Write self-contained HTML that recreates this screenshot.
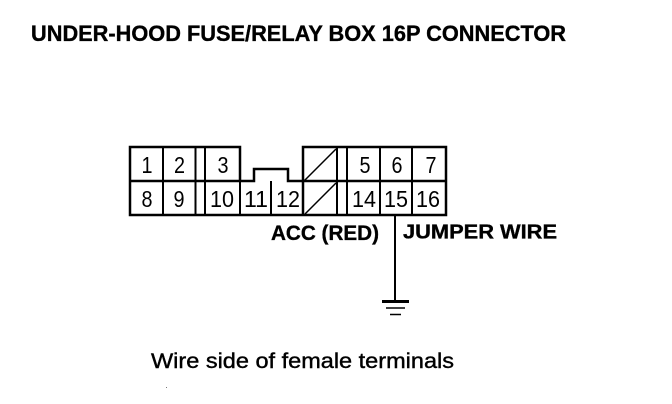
<!DOCTYPE html>
<html><head><meta charset="utf-8"><style>
html,body{margin:0;padding:0;background:#fff;width:672px;height:404px;overflow:hidden}
svg{display:block}
text{font-family:"Liberation Sans",sans-serif;fill:#000}
.b{font-weight:bold;stroke:#000;stroke-width:.35}
.n{font-size:23px;text-anchor:middle;fill:#111}
</style></head><body>
<svg width="672" height="404" viewBox="0 0 672 404" xmlns="http://www.w3.org/2000/svg">
<text class="b" x="31" y="41" font-size="22" textLength="535" lengthAdjust="spacingAndGlyphs">UNDER-HOOD FUSE/RELAY BOX 16P CONNECTOR</text>
<g stroke="#000" fill="none" stroke-width="2">
<path stroke-width="2.500" d="M240 181V147H130V215H446V147H303V215"/>
<path stroke-width="2.500" d="M130 181H240M240 181H254V169H288V181H303M303 181H446"/>
<path d="M163 147V215M195.500 147V215M205 147V215M240 181V215M271 181V215M337 147V215M347 147V215M380 147V215M412 147V215"/>
<path stroke-width="1.500" d="M304 181L336 149M305 214L336 183"/>
<path d="M395 215V301"/>
<path stroke-width="3" d="M382 301.500H409"/>
<path stroke-width="1.500" d="M386 308H405M390 314.500H401"/>
</g>
<g class="n">
<text x="147" y="173" textLength="11" lengthAdjust="spacingAndGlyphs">1</text>
<text x="179.500" y="173" textLength="11" lengthAdjust="spacingAndGlyphs">2</text>
<text x="223" y="173" textLength="11" lengthAdjust="spacingAndGlyphs">3</text>
<text x="365" y="173" textLength="11" lengthAdjust="spacingAndGlyphs">5</text>
<text x="397" y="173" textLength="11" lengthAdjust="spacingAndGlyphs">6</text>
<text x="431" y="173" textLength="11" lengthAdjust="spacingAndGlyphs">7</text>
<text x="147" y="207" textLength="11" lengthAdjust="spacingAndGlyphs">8</text>
<text x="179" y="207" textLength="11" lengthAdjust="spacingAndGlyphs">9</text>
<text x="222" y="207" textLength="24" lengthAdjust="spacingAndGlyphs">10</text>
<text x="256" y="207" textLength="24" lengthAdjust="spacingAndGlyphs">11</text>
<text x="288" y="207" textLength="24" lengthAdjust="spacingAndGlyphs">12</text>
<text x="364" y="207" textLength="24" lengthAdjust="spacingAndGlyphs">14</text>
<text x="396" y="207" textLength="24" lengthAdjust="spacingAndGlyphs">15</text>
<text x="428" y="207" textLength="24" lengthAdjust="spacingAndGlyphs">16</text>
</g>
<text class="b" x="271" y="240" font-size="21" textLength="108" lengthAdjust="spacingAndGlyphs">ACC (RED)</text>
<text class="b" x="403" y="238.500" font-size="20" textLength="154" lengthAdjust="spacingAndGlyphs">JUMPER WIRE</text>
<text x="151" y="368" font-size="21" stroke="#000" stroke-width=".4" textLength="303" lengthAdjust="spacingAndGlyphs">Wire side of female terminals</text>
<rect x="166" y="387" width="1" height="1" fill="#777"/>
</svg>
</body></html>
